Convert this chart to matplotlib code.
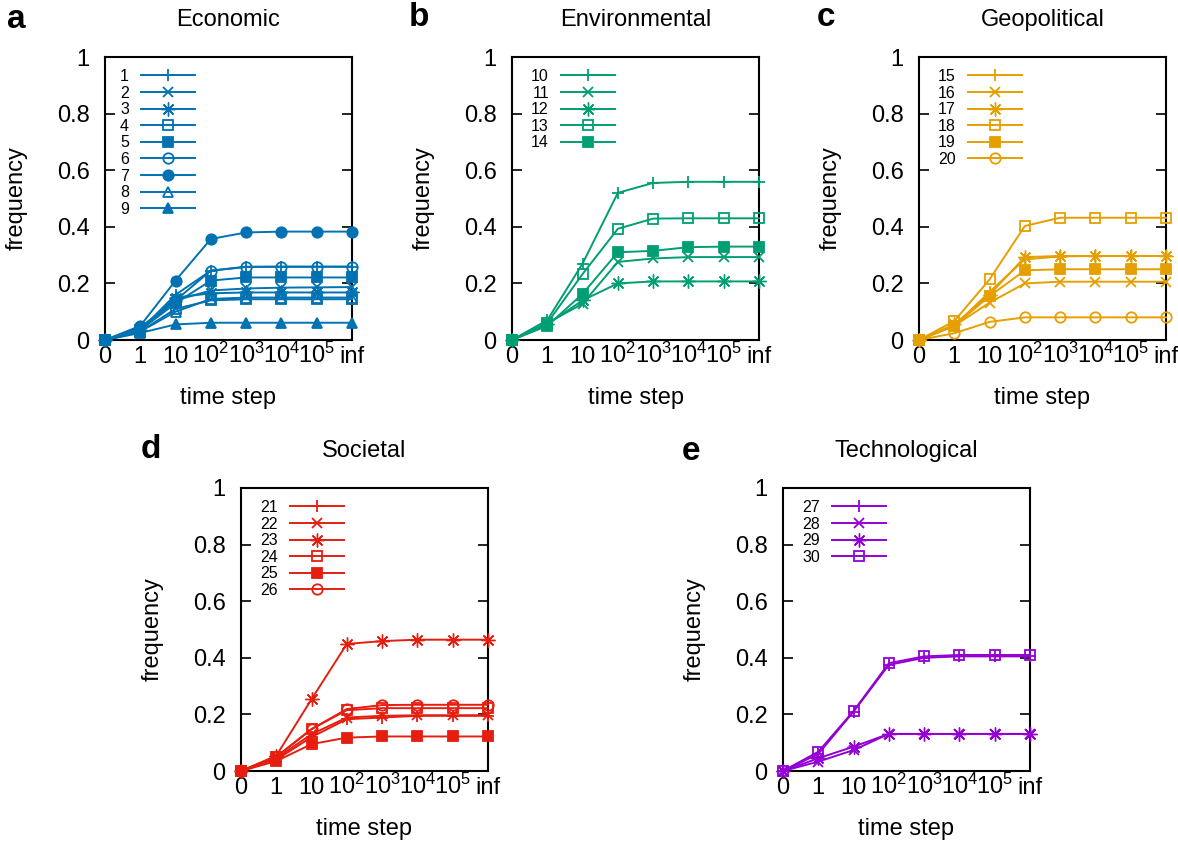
import matplotlib
matplotlib.use("Agg")
import matplotlib.pyplot as plt

plt.rcParams['font.family'] = ['Liberation Sans', 'DejaVu Sans']
plt.rcParams['mathtext.fontset'] = 'custom'
plt.rcParams['mathtext.rm'] = 'Liberation Sans'
plt.rcParams['mathtext.it'] = 'Liberation Sans'

# x positions are the 8 time steps, drawn evenly spaced
time_labels = ['0', '1', '10', r'$10^2$', r'$10^3$', r'$10^4$', r'$10^5$', 'inf']
steps = list(range(len(time_labels)))
ytick_vals = [0, 0.2, 0.4, 0.6, 0.8, 1]
ytick_labels = ['0', '0.2', '0.4', '0.6', '0.8', '1']

# gnuplot-like point types 1..9
markers = ['+', 'x', (8, 2, 0), 's', 's', 'o', 'o', '^', '^']
filled = [True, True, True, False, True, False, True, False, True]
msizes = [9, 7.5, 10, 7.5, 7.5, 7.5, 7.5, 7.5, 7.5]
medges = [1.3, 1.3, 1.0, 1.3, 1.3, 1.3, 1.3, 1.3, 1.3]

# Economic
economic_ids = ['1', '2', '3', '4', '5', '6', '7', '8', '9']
economic = [
    [0, 0.035, 0.16, 0.245, 0.258, 0.259, 0.259, 0.259],
    [0, 0.035, 0.14, 0.175, 0.182, 0.185, 0.186, 0.187],
    [0, 0.035, 0.15, 0.165, 0.168, 0.168, 0.168, 0.168],
    [0, 0.03, 0.11, 0.14, 0.144, 0.144, 0.144, 0.144],
    [0, 0.035, 0.13, 0.21, 0.221, 0.221, 0.221, 0.221],
    [0, 0.045, 0.14, 0.245, 0.259, 0.259, 0.259, 0.259],
    [0, 0.05, 0.21, 0.357, 0.38, 0.383, 0.383, 0.383],
    [0, 0.03, 0.10, 0.145, 0.15, 0.15, 0.15, 0.15],
    [0, 0.025, 0.055, 0.061, 0.061, 0.061, 0.061, 0.061],
]
# Environmental
environmental_ids = ['10', '11', '12', '13', '14']
environmental = [
    [0, 0.07, 0.27, 0.52, 0.555, 0.559, 0.559, 0.559],
    [0, 0.06, 0.128, 0.276, 0.288, 0.293, 0.293, 0.293],
    [0, 0.055, 0.14, 0.20, 0.207, 0.207, 0.207, 0.207],
    [0, 0.06, 0.233, 0.393, 0.429, 0.43, 0.43, 0.43],
    [0, 0.05, 0.163, 0.31, 0.315, 0.328, 0.33, 0.33],
]
# Geopolitical
geopolitical_ids = ['15', '16', '17', '18', '19', '20']
geopolitical = [
    [0, 0.05, 0.17, 0.285, 0.295, 0.297, 0.297, 0.297],
    [0, 0.05, 0.132, 0.20, 0.206, 0.206, 0.206, 0.206],
    [0, 0.055, 0.16, 0.293, 0.297, 0.297, 0.297, 0.297],
    [0, 0.067, 0.214, 0.403, 0.432, 0.432, 0.432, 0.432],
    [0, 0.05, 0.155, 0.246, 0.25, 0.25, 0.25, 0.25],
    [0, 0.024, 0.064, 0.08, 0.08, 0.08, 0.08, 0.08],
]
# Societal
societal_ids = ['21', '22', '23', '24', '25', '26']
societal = [
    [0, 0.04, 0.12, 0.183, 0.189, 0.195, 0.195, 0.195],
    [0, 0.045, 0.13, 0.189, 0.195, 0.197, 0.197, 0.197],
    [0, 0.054, 0.254, 0.449, 0.459, 0.464, 0.464, 0.464],
    [0, 0.05, 0.148, 0.215, 0.222, 0.222, 0.222, 0.222],
    [0, 0.035, 0.095, 0.118, 0.122, 0.122, 0.122, 0.122],
    [0, 0.05, 0.148, 0.219, 0.233, 0.234, 0.234, 0.234],
]
# Technological
technological_ids = ['27', '28', '29', '30']
technological = [
    [0, 0.06, 0.21, 0.375, 0.40, 0.405, 0.405, 0.405],
    [0, 0.033, 0.074, 0.131, 0.131, 0.131, 0.131, 0.131],
    [0, 0.045, 0.086, 0.131, 0.131, 0.131, 0.131, 0.131],
    [0, 0.068, 0.212, 0.381, 0.405, 0.41, 0.41, 0.41],
]

fig = plt.figure(figsize=(11.78, 8.44), dpi=100)
W, H = 1178.0, 844.0

# (letter, title, ids, data, colour, left px, top px, letter x px, letter y px)
panels = [
    ('a', 'Economic', economic_ids, economic, '#0072B2', 105, 57, 7, 20),
    ('b', 'Environmental', environmental_ids, environmental, '#009E73', 512, 57, 409, 18),
    ('c', 'Geopolitical', geopolitical_ids, geopolitical, '#E69F00', 919, 57, 817, 18),
    ('d', 'Societal', societal_ids, societal, '#E51E10', 241, 488, 141, 449),
    ('e', 'Technological', technological_ids, technological, '#9400D3', 783, 488, 682, 451),
]
aw, ah = 247, 283
fs = 17

for letter, title, ids, data, col, lx, ty, px, py in panels:
    ax = fig.add_axes([lx / W, 1 - (ty + ah) / H, aw / W, ah / H])
    for i, (lab, vals) in enumerate(zip(ids, data)):
        ax.plot(steps, vals, color=col, lw=1.4, marker=markers[i],
                markersize=msizes[i], markeredgewidth=medges[i],
                markerfacecolor=col if filled[i] else 'none',
                markeredgecolor=col, clip_on=False, label=lab, zorder=3 + i)
    ax.set_xlim(0, 7)
    ax.set_ylim(0, 1)
    ax.set_xticks(steps)
    ax.set_xticklabels(time_labels)
    ax.set_yticks(ytick_vals)
    ax.set_yticklabels(ytick_labels)
    ax.tick_params(axis='x', length=0, pad=16.5, labelsize=fs)
    ax.tick_params(axis='y', direction='in', length=7, width=1.2,
                   right=True, pad=11, labelsize=fs)
    plt.setp(ax.get_xticklabels(), va='baseline')
    for s in ax.spines.values():
        s.set_linewidth(1.5)
    ax.text(0.5, -58.0 / ah, 'time step', transform=ax.transAxes,
            ha='center', va='center', fontsize=fs)
    ax.text(-88.0 / aw, 0.5, 'frequency', transform=ax.transAxes,
            ha='center', va='center', rotation=90, fontsize=fs)
    ax.text(0.5, 1 + 37.0 / ah, title, transform=ax.transAxes,
            ha='center', va='center', fontsize=fs)
    fig.text(px / W, 1 - py / H, letter, ha='left', va='center',
             fontsize=24, fontweight='bold')
    lx0 = 15.0 / aw if len(ids[0]) == 1 else 19.0 / aw
    ax.legend(loc='upper left', bbox_to_anchor=(lx0, 1 - 12.0 / ah),
              frameon=False, markerfirst=False, numpoints=1,
              fontsize=11.5, handlelength=3.4, handletextpad=0.75,
              labelspacing=0.1, borderpad=0, borderaxespad=0)

fig.savefig('out.png', dpi=100)
